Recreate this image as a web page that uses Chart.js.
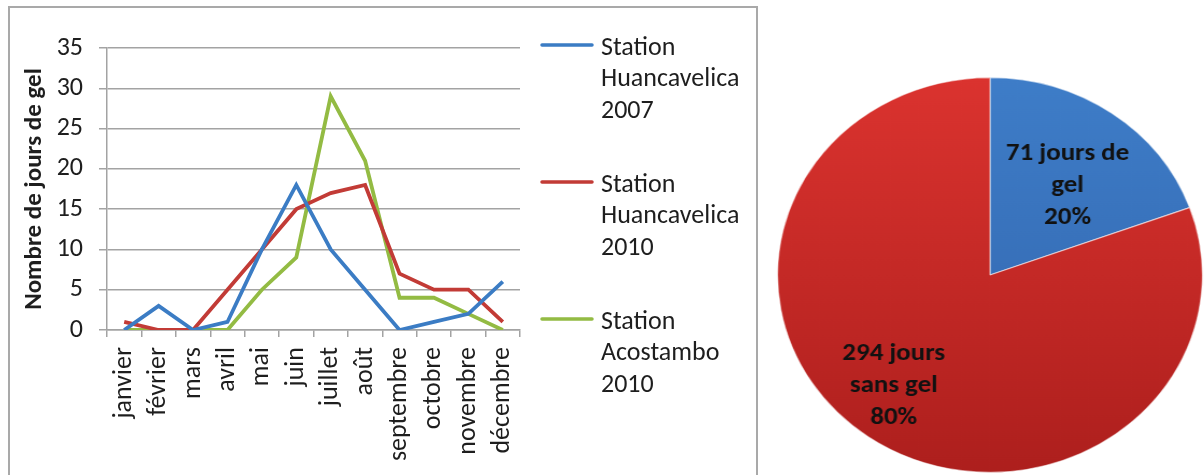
<!DOCTYPE html>
<html lang="fr">
<head>
<meta charset="utf-8">
<title>Jours de gel</title>
<script src="https://cdn.jsdelivr.net/npm/chart.js@4"></script>
<style>
  html, body { margin: 0; padding: 0; background: #fff; }
  body { width: 1204px; height: 475px; position: relative; overflow: hidden; }
  #frame {
    position: absolute; left: 8px; top: 6px; width: 750px; height: 490px;
    box-sizing: border-box; border: 2px solid #a9a9a9; border-bottom: none;
  }
  #lineWrap { position: absolute; left: 0; top: 0; width: 760px; height: 475px; }
  #pieWrap {
    position: absolute; left: 790px; top: 75px; width: 400px; height: 400px;
    transform: scaleX(1.076); transform-origin: 200px 200px;
  }
</style>
</head>
<body>
<div id="frame"></div>
<div id="lineWrap"><canvas id="lineChart" width="760" height="475"></canvas></div>
<div id="pieWrap"><canvas id="pieChart" width="400" height="400"></canvas></div>
<script>
// Monthly frost days per station
const months = ['janvier', 'février', 'mars', 'avril', 'mai', 'juin', 'juillet',
                'août', 'septembre', 'octobre', 'novembre', 'décembre'];
const huancavelica2007 = [0, 3, 0, 1, 10, 18, 10, 5, 0, 1, 2, 6];
const huancavelica2010 = [1, 0, 0, 5, 10, 15, 17, 18, 7, 5, 5, 1];
const acostambo2010   = [0, 0, 0, 0, 5, 9, 29, 21, 4, 4, 2, 0];
const seriesNames = [
  ['Station', 'Huancavelica', '2007'],
  ['Station', 'Huancavelica', '2010'],
  ['Station', 'Acostambo', '2010']
];
const yTicks = [0, 5, 10, 15, 20, 25, 30, 35];

// Yearly split of days
const pieCategories = ['jours de gel', 'jours sans gel'];
const pieValues = [71, 294];
const pieLabels = [
  ['71 jours de', 'gel', '20%'],
  ['294 jours', 'sans gel', '80%']
];

const FONT = "'Carlito', 'Lato', sans-serif";
const GRID = '#a3a3a3';
const COLORS = ['#3b7cc4', '#c23b36', '#93bb43'];
const SLICE_SHADES = [['#3e7dc8', '#3163ab'], ['#db332f', '#ad1f1d']];

// Multi-line legend drawn to the right of the plot
const sideLegend = {
  id: 'sideLegend',
  afterDraw(chart) {
    const ctx = chart.ctx;
    ctx.save();
    ctx.font = '26px ' + FONT;
    ctx.textBaseline = 'middle';
    ctx.textAlign = 'left';
    chart.data.datasets.forEach((ds, i) => {
      const y0 = 48 + i * 137;
      ctx.strokeStyle = ds.borderColor;
      ctx.lineWidth = 3.5;
      ctx.lineCap = 'round';
      ctx.beginPath();
      ctx.moveTo(542, y0 - 3);
      ctx.lineTo(592, y0 - 3);
      ctx.stroke();
      ctx.fillStyle = '#1e1e1e';
      ds.label.forEach((line, k) => ctx.fillText(line, 601, y0 + k * 31.5));
    });
    ctx.restore();
  }
};

new Chart(document.getElementById('lineChart'), {
  type: 'line',
  data: {
    labels: months,
    datasets: [huancavelica2007, huancavelica2010, acostambo2010].map((d, i) => ({
      label: seriesNames[i],
      data: d,
      borderColor: COLORS[i],
      backgroundColor: COLORS[i],
      borderWidth: 3.8,
      pointRadius: 0,
      tension: 0,
      fill: false
    }))
  },
  options: {
    responsive: false,
    animation: false,
    events: [],
    layout: { padding: { left: 0, right: 240, top: 48, bottom: 0 } },
    plugins: { legend: { display: false }, tooltip: { enabled: false } },
    scales: {
      x: {
        type: 'category',
        offset: true,
        grid: { offset: true, drawOnChartArea: false, drawTicks: true, tickLength: 7, color: GRID, lineWidth: 1.5 },
        border: { display: true, color: GRID, width: 1.5 },
        ticks: {
          minRotation: 90, maxRotation: 90, autoSkip: false, padding: 10,
          color: '#1e1e1e', font: { family: FONT, size: 26 }
        },
        afterFit(scale) { scale.height = 145; }
      },
      y: {
        min: 0, max: 35,
        afterBuildTicks(scale) { scale.ticks = yTicks.map(v => ({ value: v })); },
        grid: { color: GRID, lineWidth: 1.5, tickLength: 8, drawTicks: true },
        border: { display: true, color: GRID, width: 1.5 },
        ticks: { padding: 16, color: '#1e1e1e', font: { family: FONT, size: 26 } },
        title: {
          display: true, text: 'Nombre de jours de gel', color: '#1e1e1e',
          font: { family: FONT, size: 25, weight: 'bold' }, padding: { top: 20, bottom: 0 }
        },
        afterFit(scale) { scale.width = 107; }
      }
    }
  },
  plugins: [sideLegend]
});

// Vertical shading for each slice
function sliceFill(c) {
  const shades = SLICE_SHADES[c.dataIndex % SLICE_SHADES.length];
  const area = c.chart.chartArea;
  if (!area) return shades[0];
  const g = c.chart.ctx.createLinearGradient(0, area.top, 0, area.bottom);
  g.addColorStop(0, shades[0]);
  g.addColorStop(1, shades[1]);
  return g;
}

// Slice captions placed inside each arc
const sliceCaptions = {
  id: 'sliceCaptions',
  afterDatasetsDraw(chart, args, opts) {
    const ctx = chart.ctx;
    const arcs = chart.getDatasetMeta(0).data;
    ctx.save();
    ctx.font = 'bold 25px ' + FONT;
    ctx.fillStyle = '#111';
    ctx.textAlign = 'center';
    ctx.textBaseline = 'middle';
    arcs.forEach((arc, i) => {
      const mid = (arc.startAngle + arc.endAngle) / 2 + opts.shift;
      const r = arc.outerRadius * opts.radial[i];
      const x = arc.x + Math.cos(mid) * r;
      const y = arc.y + Math.sin(mid) * r;
      const lines = pieLabels[i];
      lines.forEach((t, k) => ctx.fillText(t, x, y + (k - (lines.length - 1) / 2) * 32));
    });
    ctx.restore();
  }
};

new Chart(document.getElementById('pieChart'), {
  type: 'pie',
  data: {
    labels: pieCategories,
    datasets: [{
      data: pieValues,
      backgroundColor: sliceFill,
      borderColor: 'rgba(255,255,255,0.55)',
      borderWidth: 1.2
    }]
  },
  options: {
    responsive: false,
    animation: false,
    events: [],
    layout: { padding: 2 },
    plugins: {
      legend: { display: false },
      tooltip: { enabled: false },
      sliceCaptions: { shift: 4 * Math.PI / 180, radial: [0.58, 0.72] }
    }
  },
  plugins: [sliceCaptions]
});
</script>
</body>
</html>
